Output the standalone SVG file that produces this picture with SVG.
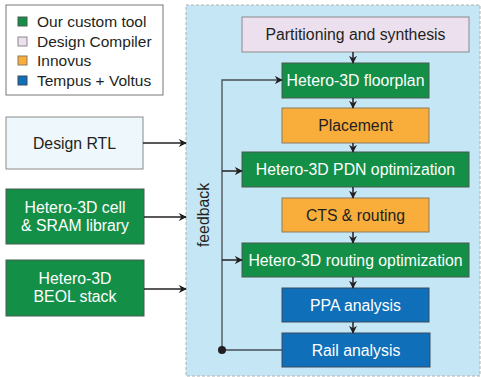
<svg xmlns="http://www.w3.org/2000/svg" width="481" height="377" viewBox="0 0 481 377">
<defs>
<marker id="ah" viewBox="0 0 10 10" refX="9" refY="5" markerWidth="8" markerHeight="8" markerUnits="userSpaceOnUse" orient="auto">
<path d="M0,0 L10,5 L0,10 L3,5 Z" fill="#231f20"/>
</marker>
</defs>
<style>
text{font-family:"Liberation Sans",Arial,sans-serif;font-size:15.8px;text-anchor:middle;dominant-baseline:central}
.lt{text-anchor:start;fill:#231f20;font-size:15.5px}
.dk{fill:#231f20}
.wt{fill:#ffffff}
.green{fill:#138f47;stroke:#4a5a50;stroke-width:1}
.orange{fill:#f9ae3c;stroke:#8a7a60;stroke-width:1}
.blue{fill:#0f6fb9;stroke:#3a4a60;stroke-width:1}
.pink{fill:#ecdfee;stroke:#8a8a8a;stroke-width:1}
.rtl{fill:#eef7fb;stroke:#8a8a8a;stroke-width:1}
.conn{stroke:#231f20;stroke-width:1.5;fill:none}
.fb{stroke:#454d55;stroke-width:1.3;fill:none}
.arr{marker-end:url(#ah)}
</style>
<rect x="186" y="5" width="294" height="371" fill="#c4e6f5" stroke="#b0b0b0" stroke-width="1" stroke-dasharray="3,2"/>
<g id="legend">
<rect x="6" y="5" width="157" height="90" fill="#ffffff" stroke="#777777" stroke-width="1"/>
<rect x="18" y="17" width="9" height="9" class="green"/>
<text x="37" y="21" class="lt">Our custom tool</text>
<rect x="18" y="37" width="9" height="9" class="pink"/>
<text x="37" y="41" class="lt">Design Compiler</text>
<rect x="18" y="56" width="9" height="9" class="orange"/>
<text x="37" y="60" class="lt">Innovus</text>
<rect x="18" y="76" width="9" height="9" class="blue"/>
<text x="37" y="80" class="lt">Tempus + Voltus</text>
</g>
<g id="rtl">
<rect x="6" y="117" width="137" height="52" class="rtl"/>
<text x="74.5" y="143" class="dk">Design RTL</text>
</g>
<g id="celllib">
<rect x="6" y="189" width="138" height="55" class="green"/>
<text x="75" y="207.5" class="wt">Hetero-3D cell</text>
<text x="75" y="225.5" class="wt">&amp; SRAM library</text>
</g>
<g id="beol">
<rect x="6" y="260" width="138" height="56" class="green"/>
<text x="75" y="278.5" class="wt">Hetero-3D</text>
<text x="75" y="296.5" class="wt">BEOL stack</text>
</g>
<g id="partition">
<rect x="242" y="17" width="227" height="35" class="pink"/>
<text x="355.5" y="34.5" class="dk">Partitioning and synthesis</text>
</g>
<g id="floorplan">
<rect x="282" y="63" width="147" height="35" class="green"/>
<text x="355.5" y="80.5" class="wt">Hetero-3D floorplan</text>
</g>
<g id="placement">
<rect x="282" y="108" width="147" height="35" class="orange"/>
<text x="355.5" y="125.5" class="dk">Placement</text>
</g>
<g id="pdn">
<rect x="242" y="152" width="227" height="35" class="green"/>
<text x="355.5" y="169.5" class="wt">Hetero-3D PDN optimization</text>
</g>
<g id="cts">
<rect x="282" y="198" width="147" height="34" class="orange"/>
<text x="355.5" y="215" class="dk">CTS &amp; routing</text>
</g>
<g id="routeopt">
<rect x="242" y="243" width="227" height="34" class="green"/>
<text x="355.5" y="260" class="wt">Hetero-3D routing optimization</text>
</g>
<g id="ppa">
<rect x="282" y="288" width="147" height="34" class="blue"/>
<text x="355.5" y="305" class="wt">PPA analysis</text>
</g>
<g id="rail">
<rect x="282" y="333" width="148" height="34" class="blue"/>
<text x="356" y="350" class="wt">Rail analysis</text>
</g>
<text x="203" y="215" class="dk" transform="rotate(-90 203 215)">feedback</text>
<g id="connectors">
<line x1="143" y1="143" x2="186" y2="143" class="conn arr"/>
<line x1="144" y1="217" x2="186" y2="217" class="conn arr"/>
<line x1="144" y1="289" x2="186" y2="289" class="conn arr"/>
<line x1="353" y1="52" x2="353" y2="63" class="conn arr"/>
<line x1="353" y1="98" x2="353" y2="108" class="conn arr"/>
<line x1="353" y1="143" x2="353" y2="152" class="conn arr"/>
<line x1="353" y1="187" x2="353" y2="198" class="conn arr"/>
<line x1="353" y1="232" x2="353" y2="243" class="conn arr"/>
<line x1="353" y1="277" x2="353" y2="288" class="conn arr"/>
<line x1="353" y1="322" x2="353" y2="333" class="conn arr"/>
<polyline points="282,350 222,350 222,80 282,80" class="fb arr"/>
<line x1="222" y1="171" x2="242" y2="171" class="conn arr"/>
<line x1="222" y1="260" x2="242" y2="260" class="conn arr"/>
<circle cx="222" cy="350" r="4" fill="#231f20"/>
</g>
</svg>
